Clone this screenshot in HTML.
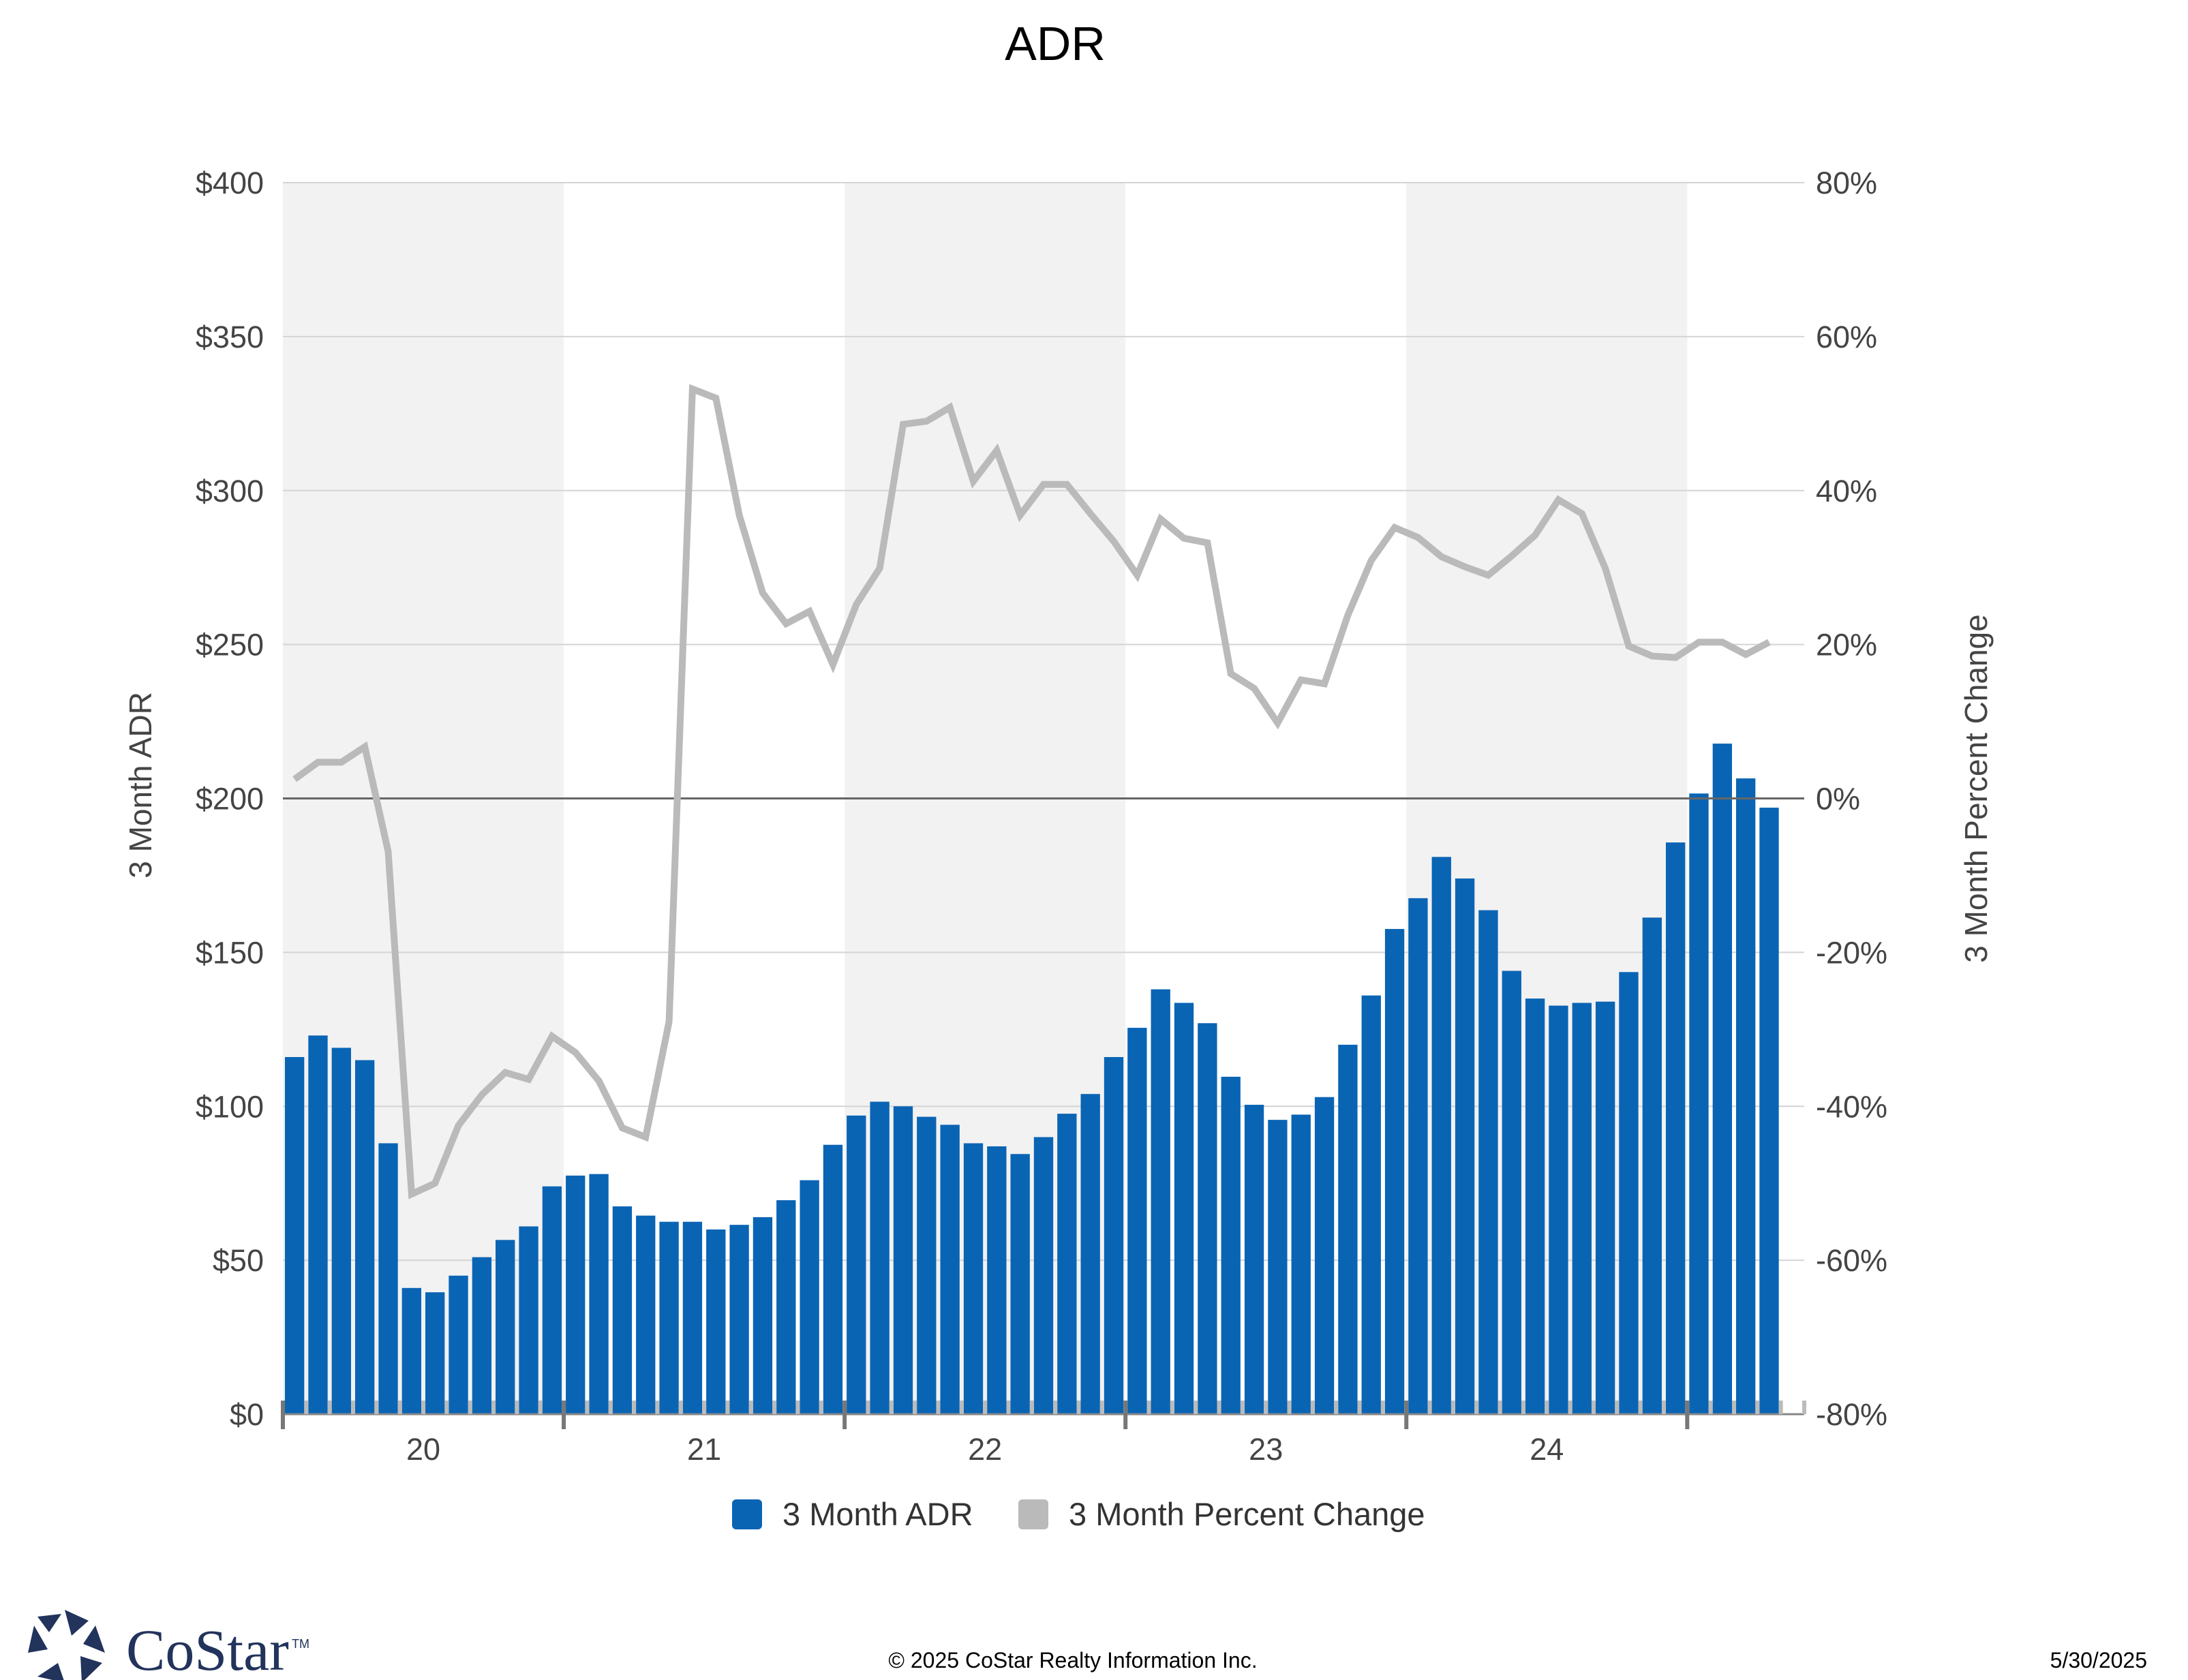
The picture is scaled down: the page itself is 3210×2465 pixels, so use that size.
<!DOCTYPE html>
<html><head><meta charset="utf-8"><style>
html,body{margin:0;padding:0;background:#fff;}
svg{display:block;font-family:"Liberation Sans",Arial,sans-serif;}
</style></head><body>
<svg id="c" width="3210" height="2465" xmlns="http://www.w3.org/2000/svg"></svg>
<script>
const L=415,R=2647,T=268,B=2075,mw=(R-L)/65;
const yD=v=>B-(v/400)*(B-T);
const yP=p=>B-((p+80)/160)*(B-T);
const bars=[116,123,119,115,88,41,39.6,45,51,56.6,61,74,
77.5,78,67.5,64.5,62.5,62.5,60,61.5,64,69.5,76,87.5,
97,101.5,100,96.6,94,88,87,84.5,90,97.6,104,116,
125.5,138,133.6,127,109.6,100.5,95.6,97.3,103,120,136,157.6,
167.6,181,174,163.7,144,135,132.7,133.6,134,143.6,161.3,185.7,
201.6,217.8,206.5,197];
const line=[2.5,4.7,4.7,6.7,-6.9,-51.4,-50,-42.5,-38.5,-35.6,-36.5,-30.9,
-33,-36.7,-42.8,-44,-29,53.2,52,36.8,26.7,22.7,24.3,17.4,
25.2,29.9,48.6,49,50.8,41.2,45.2,36.8,40.8,40.8,37,33.4,
29,36.3,33.8,33.2,16.2,14.3,9.8,15.4,14.9,23.8,30.9,35.2,
33.9,31.4,30.1,29,31.5,34.2,38.8,37,29.9,19.8,18.5,18.3,
20.3,20.3,18.7,20.3];
let s='';
s+=`<text x="1548" y="88" font-size="70" text-anchor="middle" fill="#000">ADR</text>`;
for(const y of [0,2,4]){s+=`<rect x="${L+y*12*mw}" y="${T}" width="${12*mw}" height="${B-T}" fill="#f2f2f2"/>`;}
for(let i=0;i<=8;i++){const y=T+i*(B-T)/8;
 if(i!=4&&i!=8)s+=`<line x1="${L}" x2="${R}" y1="${y}" y2="${y}" stroke="#d4d4d4" stroke-width="2"/>`;
 s+=`<text x="387" y="${y+16}" font-size="45" text-anchor="end" fill="#444">$${400-i*50}</text>`;
 s+=`<text x="2664" y="${y+16}" font-size="45" fill="#444">${80-i*20}%</text>`;}
bars.forEach((v,i)=>{const x=L+i*mw+3;s+=`<rect x="${x}" y="${yD(v)}" width="${mw-6}" height="${B-yD(v)}" fill="#0a64b4"/>`;});
s+=`<line x1="${L}" x2="${R}" y1="${yD(200)}" y2="${yD(200)}" stroke="#666" stroke-width="3"/>`;
s+=`<polyline fill="none" stroke="#bababa" stroke-width="10" stroke-linejoin="miter" points="${line.map((p,i)=>(L+(i+0.5)*mw).toFixed(1)+','+yP(p).toFixed(1)).join(' ')}"/>`;
s+=`<line x1="${L}" x2="${R}" y1="${B}" y2="${B}" stroke="#888" stroke-width="3"/>`;
for(let i=0;i<=65;i++){const x=L+i*mw;
 if(i%12==0&&i<65)s+=`<rect x="${x-3}" y="${B-20}" width="6" height="42" fill="#777"/>`;
 else s+=`<rect x="${x-3}" y="${B-20}" width="6" height="20" fill="#bbb"/>`;}
['20','21','22','23','24'].forEach((t,k)=>{s+=`<text x="${L+(k*12+6)*mw}" y="2142" font-size="45" text-anchor="middle" fill="#444">${t}</text>`;});
s+=`<text transform="translate(222,1152) rotate(-90)" font-size="46" text-anchor="middle" fill="#444">3 Month ADR</text>`;
s+=`<text transform="translate(2915,1157) rotate(-90)" font-size="46" text-anchor="middle" fill="#444">3 Month Percent Change</text>`;
s+=`<rect x="1074" y="2200" width="44" height="44" rx="6" fill="#0a64b4"/><text x="1148" y="2238" font-size="47" fill="#333">3 Month ADR</text>`;
s+=`<rect x="1494" y="2200" width="44" height="44" rx="6" fill="#bababa"/><text x="1568" y="2238" font-size="47" fill="#333">3 Month Percent Change</text>`;
s+=`<g fill="#22335c"><polygon points="95,2362 130,2378 105,2400"/><polygon points="140,2385 154,2425 122,2412"/><polygon points="150,2440 120,2469 118,2430"/><polygon points="95,2469 55,2460 85,2440"/><polygon points="41,2425 50,2385 70,2420"/><polygon points="55,2372 90,2368 72,2395"/></g>`;
s+=`<text x="185" y="2450" font-size="86" font-family="Liberation Serif,serif" fill="#22335c">CoStar</text><text x="428" y="2418" font-size="18" fill="#22335c">TM</text>`;
s+=`<text x="1574" y="2447" font-size="32" text-anchor="middle" fill="#000">© 2025 CoStar Realty Information Inc.</text>`;
s+=`<text x="3150" y="2447" font-size="32" text-anchor="end" fill="#000">5/30/2025</text>`;
document.getElementById('c').innerHTML=s;
</script>
</body></html>
